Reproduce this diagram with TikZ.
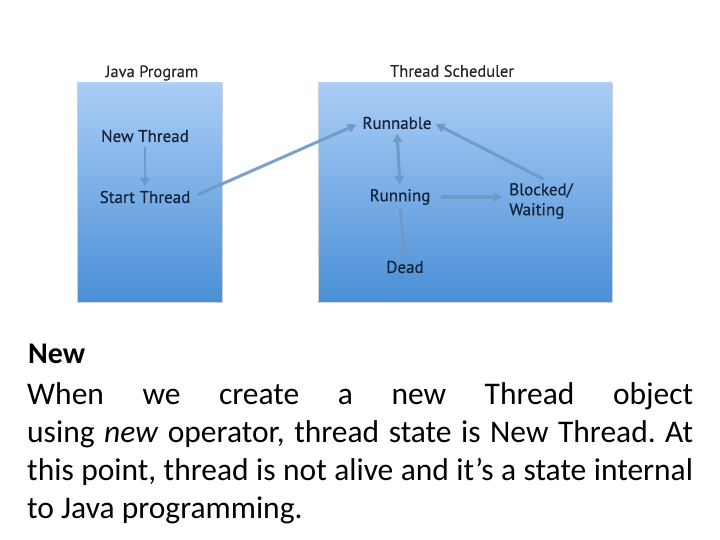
\documentclass[tikz,border=0pt]{standalone}
\usepackage{fontspec}
\setmainfont{Carlito}
\newfontface\diagfont{PT Sans}[FakeBold=0.6]
\newfontface\ttlfont{PT Sans}[FakeBold=0.3]
\usetikzlibrary{arrows.meta}
\frenchspacing
\definecolor{boxtop}{HTML}{AACDF6}
\definecolor{boxbot}{HTML}{4A8FD6}
\definecolor{boxedge}{HTML}{C9D3DD}
\definecolor{arrowc}{HTML}{6F98C4}
\definecolor{labc}{HTML}{16243A}
\tikzset{
  panel/.style={draw=boxedge, line width=0.8pt, top color=boxtop, bottom color=boxbot},
  ttl/.style={font=\ttlfont\fontsize{16.5}{18}\selectfont, text=black!85},
  st/.style={font=\diagfont\fontsize{17}{20}\selectfont, text=labc, inner sep=2pt},
  conn/.style={draw=arrowc, line width=3pt, draw opacity=0.9, -{Triangle[length=9pt,width=9pt]}},
  body/.style={font=\fontsize{31.5}{38}\selectfont, anchor=base west, inner sep=0pt},
}
\begin{document}
\begin{tikzpicture}[x=1pt,y=-1pt]
\useasboundingbox (0,0) rectangle (720,540);
% panels
\path[panel] (77,83) rectangle (222,302);
\path[panel] (318,83) rectangle (612,302);
\node[ttl] (jp) at (152,73) {Java Program};
\node[ttl] (ts) at (452,71) {Thread Scheduler};
% states
\node[st] (newt) at (145,136) {New Thread};
\node[st] (start) at (145,197) {Start Thread};
\node[st] (runnable) at (397,123) {Runnable};
\node[st] (running) at (400,197) {Running};
\node[st] (dead) at (405,267) {Dead};
\node[st, align=left] (blocked) at (541,201) {Blocked/\\Waiting};
% connectors
\draw[conn, line width=2.2pt, shorten <=3pt, shorten >=2pt] (newt.south) -- (start.north);
\draw[conn, shorten <=5pt, shorten >=4pt] (start.east) -- (runnable.west);
\draw[conn, {Triangle[length=9pt,width=9pt]}-{Triangle[length=9pt,width=9pt]}, shorten <=2pt, shorten >=2pt] (runnable.south) -- (running.north);
\draw[conn, line width=3.5pt, shorten <=8pt, shorten >=5pt] (running.east) -- (blocked.west |- running.east);
\draw[conn, shorten <=4pt, shorten >=2pt] ([xshift=6pt]blocked.north) -- (runnable.east);
\draw[conn, shorten <=2pt, shorten >=2pt] (running.south) -- (dead.north);
% body text
\node[body, font=\bfseries\fontsize{30}{34}\selectfont] (h) at (28,363) {New};
\node[body] (l1) at (27,404) {\makebox[666pt][s]{When we create a new Thread object}};
\node[body] (l2) at (27,442) {\makebox[666pt][s]{using \textit{new} operator, thread state is New Thread. At}};
\node[body] (l3) at (27,480) {\makebox[666pt][s]{this point, thread is not alive and it’s a state internal}};
\node[body] (l4) at (27,518) {to Java programming.};
\end{tikzpicture}
\end{document}
